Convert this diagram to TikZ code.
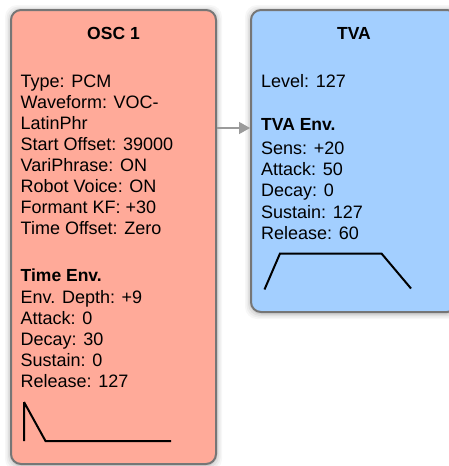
\documentclass[tikz,border=0pt]{standalone}
\usepackage{fontspec}
\setmainfont{Liberation Sans}
\usetikzlibrary{arrows.meta}
\definecolor{oscfill}{RGB}{255,170,153}
\definecolor{tvafill}{RGB}{163,207,255}
\definecolor{boxborder}{RGB}{118,118,118}
\definecolor{arrowgray}{RGB}{155,155,155}
\tikzset{
  panel/.style={draw=boxborder, line width=2pt, rounded corners=10pt, inner sep=0pt},
  txt/.style={anchor=base west, inner sep=0pt, font=\fontsize{18}{21}\selectfont},
  ttl/.style={anchor=base, inner sep=0pt, font=\fontsize{17.5}{21}\selectfont\bfseries},
  hdr/.style={anchor=base west, inner sep=0pt, font=\fontsize{17.5}{21}\selectfont\bfseries},
  env/.style={line width=2pt, black},
  link/.style={draw=arrowgray, line width=1.5pt, -{Triangle[length=11pt,width=12pt]}, arrowgray},
}
\begin{document}
\begin{tikzpicture}[x=1pt,y=-1pt]
\useasboundingbox (0,0) rectangle (448,466);
\fill[white] (0,0) rectangle (448,466);
% soft shadows
\foreach \s/\o in {6/0.03,4.5/0.04,3/0.05,1.5/0.07}{
  \fill[black, opacity=\o, rounded corners=12pt] (11-\s,10-\s+1) rectangle (216+\s,464+\s+1);
  \fill[black, opacity=\o, rounded corners=12pt] (251-\s,10-\s+1) rectangle (457+\s,312+\s+1);
}
\node[panel, fill=oscfill, minimum width=205pt, minimum height=454pt] (osc) at (113.5,237) {};
\node[panel, fill=tvafill, minimum width=206pt, minimum height=302pt] (tva) at (354,161) {};
\coordinate (ay) at (0,128);
\draw[link] (osc.east |- ay) -- (tva.west |- ay);
% OSC 1 texts
\node[ttl] (osct) at (113.5,39) {OSC 1};
\foreach \t/\y [count=\i] in {Type: PCM/87, Waveform: VOC-/108, LatinPhr/129, Start Offset: 39000/150, VariPhrase: ON/171, Robot Voice: ON/192, Formant KF: +30/213, Time Offset: Zero/234, Env. Depth: +9/303, Attack: 0/324, Decay: 30/345, Sustain: 0/366, Release: 127/387}{
  \node[txt] (osc-\i) at (20.5,\y) {\t};
}
\node[hdr] (osch) at (20.5,281) {Time Env.};
\draw[env] (24,402) -- (24,441) (24,402) -- (45.5,441) -- (171,441);
% TVA texts
\node[ttl] (tvat) at (354,39) {TVA};
\node[txt] (tva-0) at (261,87) {Level: 127};
\node[hdr] (tvah) at (261,130) {TVA Env.};
\foreach \t/\y [count=\i] in {Sens: +20/154, Attack: 50/175, Decay: 0/196.5, Sustain: 127/218, Release: 60/239}{
  \node[txt] (tva-\i) at (261,\y) {\t};
}
\draw[env] (264.5,289.5) -- (280,253.5) -- (381.5,253.5) -- (411,288.5);
\end{tikzpicture}
\end{document}
